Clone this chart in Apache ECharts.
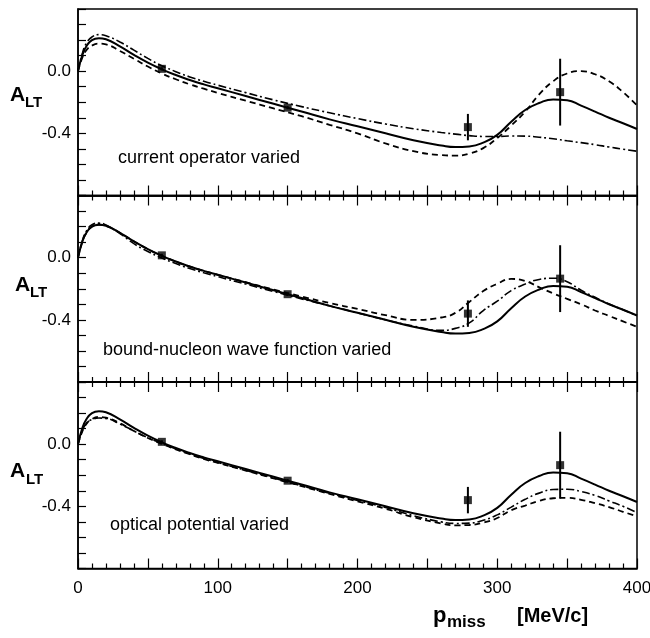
<!DOCTYPE html>
<html>
<head>
<meta charset="utf-8">
<script src="https://cdn.jsdelivr.net/npm/echarts@6/dist/echarts.min.js"></script>
<style>html,body{margin:0;padding:0;background:#fff;}#c{width:650px;height:638px;}</style>
</head>
<body>
<div id="c"></div>
<script>
// ---- data ----
const pMiss = [0, 3, 6, 10, 15, 20, 30, 40, 50, 60, 70, 80, 90, 100, 120, 140, 160, 180, 200, 220, 240, 260, 270, 280, 290, 300, 310, 320, 330, 340, 350, 360, 370, 380, 390, 400];
const solidAll = [0.0, 0.10, 0.16, 0.20, 0.212, 0.205, 0.16, 0.105, 0.055, 0.012, -0.025, -0.057, -0.085, -0.11, -0.16, -0.21, -0.26, -0.31, -0.355, -0.40, -0.445, -0.478, -0.488, -0.484, -0.46, -0.41, -0.325, -0.25, -0.205, -0.182, -0.187, -0.222, -0.26, -0.30, -0.335, -0.372];
const dashedCurrent = [0.0, 0.085, 0.135, 0.165, 0.177, 0.172, 0.13, 0.08, 0.03, -0.015, -0.052, -0.085, -0.113, -0.14, -0.19, -0.24, -0.29, -0.345, -0.40, -0.465, -0.515, -0.54, -0.543, -0.53, -0.495, -0.43, -0.35, -0.26, -0.15, -0.065, -0.015, 0.0, -0.02, -0.065, -0.135, -0.22];
const dashdotCurrent = [0.0, 0.11, 0.18, 0.22, 0.235, 0.228, 0.188, 0.135, 0.082, 0.035, -0.003, -0.037, -0.065, -0.09, -0.138, -0.185, -0.228, -0.268, -0.305, -0.34, -0.37, -0.395, -0.405, -0.415, -0.42, -0.42, -0.417, -0.418, -0.425, -0.435, -0.448, -0.46, -0.473, -0.488, -0.502, -0.515];
const dashedBound = [0.0, 0.10, 0.16, 0.20, 0.212, 0.205, 0.16, 0.105, 0.055, 0.012, -0.025, -0.057, -0.085, -0.11, -0.158, -0.205, -0.25, -0.292, -0.33, -0.37, -0.40, -0.385, -0.355, -0.285, -0.215, -0.168, -0.137, -0.15, -0.19, -0.23, -0.265, -0.30, -0.34, -0.375, -0.41, -0.445];
const dashdotBound = [0.0, 0.105, 0.17, 0.212, 0.222, 0.21, 0.155, 0.09, 0.04, -0.002, -0.038, -0.07, -0.097, -0.122, -0.17, -0.218, -0.265, -0.31, -0.355, -0.40, -0.44, -0.468, -0.455, -0.42, -0.34, -0.28, -0.212, -0.17, -0.14, -0.132, -0.155, -0.21, -0.255, -0.298, -0.335, -0.372];
const dashedOptical = [0.0, 0.08, 0.13, 0.162, 0.175, 0.17, 0.135, 0.085, 0.04, 0.002, -0.033, -0.065, -0.095, -0.12, -0.17, -0.22, -0.27, -0.32, -0.368, -0.415, -0.47, -0.51, -0.522, -0.52, -0.505, -0.475, -0.425, -0.395, -0.365, -0.348, -0.345, -0.358, -0.38, -0.405, -0.435, -0.465];
const dashdotOptical = [0.0, 0.085, 0.135, 0.158, 0.168, 0.165, 0.13, 0.085, 0.042, 0.005, -0.03, -0.062, -0.092, -0.118, -0.168, -0.218, -0.268, -0.316, -0.362, -0.408, -0.46, -0.5, -0.51, -0.508, -0.49, -0.455, -0.405, -0.355, -0.315, -0.292, -0.29, -0.305, -0.33, -0.365, -0.4, -0.44];
const expX = [60, 150, 279, 345];
const expY = [0.015, -0.235, -0.36, -0.135];
const expErr = [0.01, 0.01, 0.085, 0.215];
const panelTitles = ['current operator varied', 'bound-nucleon wave function varied', 'optical potential varied'];
const xTickLabels = [0, 100, 200, 300, 400];
const yTickLabels = ['0.0', '-0.4'];
const yTickValues = [0.0, -0.4];

// ---- layout ----
const FONT = '"Liberation Sans", Arial, Helvetica, sans-serif';
const gridTops = [9, 195.5, 382];
const gridH = 186.5;
const panels = [
  {dashed: dashedCurrent, dashdot: dashdotCurrent},
  {dashed: dashedBound, dashdot: dashdotBound},
  {dashed: dashedOptical, dashdot: dashdotOptical}
];
const zip = (xs, ys) => xs.map((x, i) => [x, ys[i]]);

const grids = gridTops.map(t => ({left: 78, right: 13, top: t, height: gridH, show: true, borderColor: '#000', borderWidth: 1.5,
  backgroundColor: 'transparent', containLabel: false, outerBoundsMode: 'none'}));

const tickStyle = {color: '#000', width: 1.2};
function xAxisDef(i, pos) {
  const isLabel = (pos === 'bottom' && i === 2);
  return {
    type: 'value', gridIndex: i, min: 0, max: 400, interval: 50, position: pos,
    axisLine: {show: true, onZero: false, lineStyle: {color: '#000', width: 1.5}},
    axisTick: {show: true, inside: true, length: 10, lineStyle: tickStyle},
    minorTick: {show: true, splitNumber: 5, length: 5, lineStyle: tickStyle},
    splitLine: {show: false}, minorSplitLine: {show: false},
    axisLabel: {
      show: isLabel, color: '#000', fontSize: 17, fontFamily: FONT, margin: 11,
      showMinLabel: true, showMaxLabel: true,
      formatter: v => (xTickLabels.indexOf(Math.round(v)) >= 0 ? String(Math.round(v)) : '')
    }
  };
}
const xAxes = [0, 1, 2].map(i => xAxisDef(i, 'bottom')).concat([1, 2].map(i => xAxisDef(i, 'top')));

const yAxes = [0, 1, 2].map(i => ({
  type: 'value', gridIndex: i, min: -0.8, max: 0.4, interval: 0.1,
  axisLine: {show: true, onZero: false, lineStyle: {color: '#000', width: 1.5}},
  axisTick: {show: true, inside: true, length: 8, lineStyle: tickStyle},
  splitLine: {show: false},
  axisLabel: {
    color: '#000', fontSize: 17, fontFamily: FONT, margin: 7,
    formatter: v => {
      for (let k = 0; k < yTickValues.length; k++) if (Math.abs(v - yTickValues[k]) < 1e-6) return yTickLabels[k];
      return '';
    }
  }
}));

const series = [];
panels.forEach((p, i) => {
  series.push({type: 'line', xAxisIndex: i, yAxisIndex: i, data: zip(pMiss, solidAll), smooth: 0.5, showSymbol: false, symbol: 'none',
    lineStyle: {color: '#000', width: 2, type: 'solid'}, z: 3});
  series.push({type: 'line', xAxisIndex: i, yAxisIndex: i, data: zip(pMiss, p.dashed), smooth: 0.5, showSymbol: false, symbol: 'none',
    lineStyle: {color: '#000', width: 1.8, type: [6, 4]}, z: 3});
  series.push({type: 'line', xAxisIndex: i, yAxisIndex: i, data: zip(pMiss, p.dashdot), smooth: 0.5, showSymbol: false, symbol: 'none',
    lineStyle: {color: '#000', width: 1.6, type: [8, 3, 2, 3]}, z: 3});
  series.push({type: 'custom', xAxisIndex: i, yAxisIndex: i, data: expX.map((x, k) => [x, expY[k], expErr[k]]),
    encode: {x: 0, y: 1},
    renderItem: (params, api) => {
      const x = api.value(0), y = api.value(1), e = api.value(2);
      const a = api.coord([x, y + e]), b = api.coord([x, y - e]);
      return {type: 'line', shape: {x1: a[0], y1: a[1], x2: b[0], y2: b[1]}, style: {stroke: '#000', lineWidth: 2}};
    }, z: 4});
  series.push({type: 'scatter', xAxisIndex: i, yAxisIndex: i, data: zip(expX, expY), symbol: 'rect', symbolSize: 8,
    itemStyle: {color: '#000'}, z: 5});
});

// text elements
const altPos = [{x: 10, ya: 94.8, xl: 25, yl: 103}, {x: 15, ya: 284.8, xl: 30, yl: 293}, {x: 10, ya: 471.4, xl: 26, yl: 480}];
const titlePos = [{x: 118, y: 158}, {x: 103, y: 350.5}, {x: 110, y: 525.5}];
const graphic = [];
altPos.forEach(p => {
  graphic.push({type: 'text', x: p.x, y: p.ya, style: {text: 'A', font: 'bold 21px ' + FONT, fill: '#000', verticalAlign: 'middle'}});
  graphic.push({type: 'text', x: p.xl, y: p.yl, style: {text: 'LT', font: 'bold 15px ' + FONT, fill: '#000', verticalAlign: 'middle'}});
});
titlePos.forEach((p, i) => {
  graphic.push({type: 'text', x: p.x, y: p.y, style: {text: panelTitles[i], font: '18px ' + FONT, fill: '#000', verticalAlign: 'middle'}});
});
graphic.push({type: 'text', x: 433, y: 615.7, style: {text: 'p', font: 'bold 22px ' + FONT, fill: '#000', verticalAlign: 'middle'}});
graphic.push({type: 'text', x: 447, y: 622.4, style: {text: 'miss', font: 'bold 17px ' + FONT, fill: '#000', verticalAlign: 'middle'}});
graphic.push({type: 'text', x: 517, y: 616.4, style: {text: '[MeV/c]', font: 'bold 20px ' + FONT, fill: '#000', verticalAlign: 'middle'}});

const chart = echarts.init(document.getElementById('c'), null, {renderer: 'canvas'});
chart.setOption({
  animation: false,
  backgroundColor: '#fff',
  grid: grids,
  xAxis: xAxes,
  yAxis: yAxes,
  series: series,
  graphic: graphic
});
</script>
</body>
</html>
